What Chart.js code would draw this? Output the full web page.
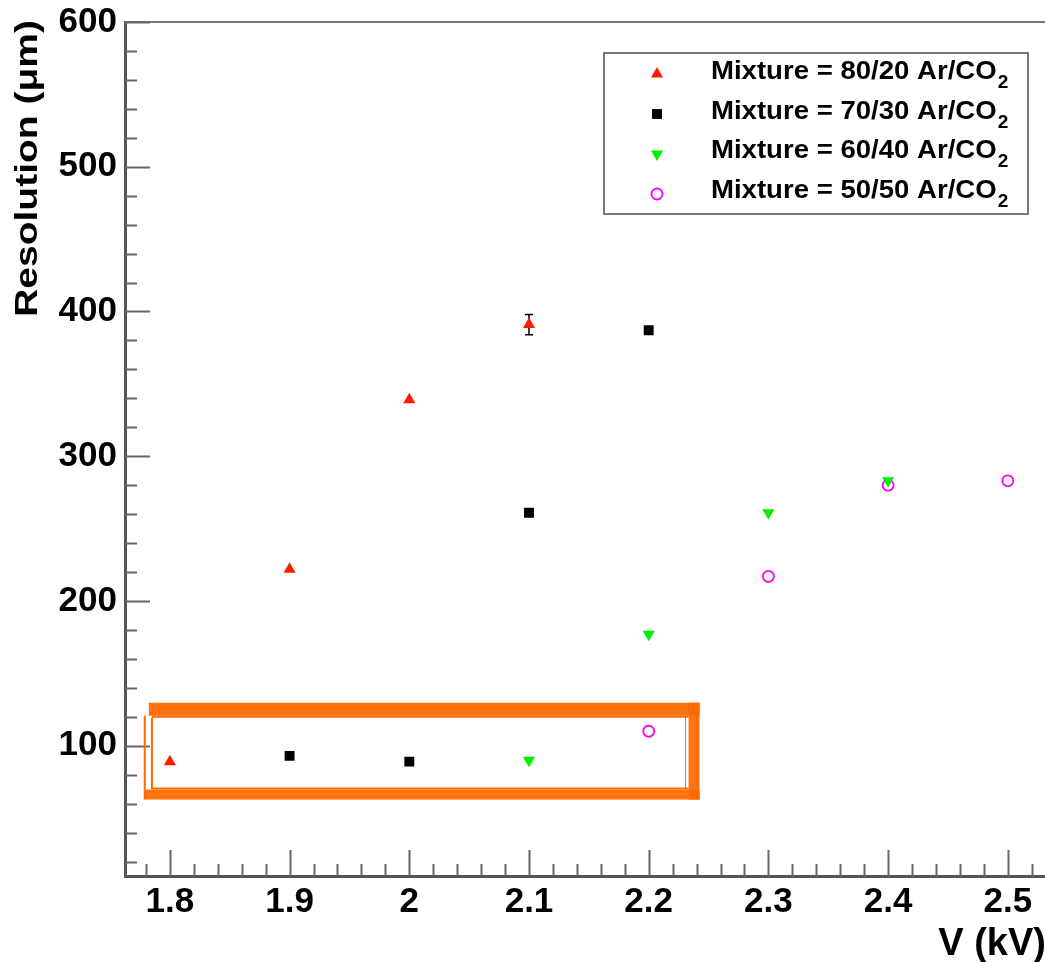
<!DOCTYPE html>
<html><head><meta charset="utf-8">
<script src="https://cdn.jsdelivr.net/npm/chart.js@4/dist/chart.umd.min.js"></script>
<style>html,body{margin:0;padding:0;background:#fff;overflow:hidden;width:1045px;height:962px}canvas{display:block}</style>
</head><body><canvas id="c" width="1060" height="962"></canvas>
<script>
// ---- data ----
const mixtures = ['80/20', '70/30', '60/40', '50/50'];
const v8020 = [1.8, 1.9, 2.0, 2.1];
const r8020 = [89, 222, 339, 391];
const e8020 = [0, 0, 0, 7];
const v7030 = [1.9, 2.0, 2.1, 2.2];
const r7030 = [93, 89, 261, 387];
const v6040 = [2.1, 2.2, 2.3, 2.4];
const r6040 = [90, 177, 261, 283];
const v5050 = [2.2, 2.3, 2.4, 2.5];
const r5050 = [110, 217, 280, 283];
const xTicks = [1.8, 1.9, 2.0, 2.1, 2.2, 2.3, 2.4, 2.5];
const xTickLabels = ['1.8', '1.9', '2', '2.1', '2.2', '2.3', '2.4', '2.5'];
const yTicks = [100, 200, 300, 400, 500, 600];
const yTickLabels = ['100', '200', '300', '400', '500', '600'];
const xTitle = 'V (kV)';
const yTitle = 'Resolution (\u03bcm)';
// highlight box (data coords): outer/inner edges
const boxX = [1.779, 1.785, 2.2333, 2.2425];
const boxY = [62.8, 69.7, 120.7, 129.7];

const FONT = "'Liberation Sans', Arial, Helvetica, sans-serif";
const colors = ['#ff1a00', '#000000', '#00ee00', '#ff00ff'];

function pts(xs, ys) { return xs.map((x, i) => ({x: x, y: ys[i]})); }

const datasets = [
  {label: mixtures[0], data: pts(v8020, r8020), pointStyle: 'triangle', pointRadius: 7, pointRotation: 0,
   backgroundColor: colors[0], borderColor: colors[0], borderWidth: 0, errors: e8020},
  {label: mixtures[1], data: pts(v7030, r7030), pointStyle: 'rect', pointRadius: 7,
   backgroundColor: colors[1], borderColor: colors[1], borderWidth: 0},
  {label: mixtures[2], data: pts(v6040, r6040), pointStyle: 'triangle', pointRadius: 7, pointRotation: 180,
   backgroundColor: colors[2], borderColor: colors[2], borderWidth: 0},
  {label: mixtures[3], data: pts(v5050, r5050), pointStyle: 'circle', pointRadius: 5.5,
   backgroundColor: 'rgba(255,255,255,0)', borderColor: colors[3], borderWidth: 1.8}
];

function drawMarker(ctx, style, rot, x, y, r, fill, stroke, bw) {
  ctx.save();
  ctx.translate(x, y);
  ctx.rotate(rot * Math.PI / 180);
  ctx.beginPath();
  if (style === 'triangle') {
    let a = 0;
    ctx.moveTo(Math.sin(a) * r, -Math.cos(a) * r);
    a += 2 * Math.PI / 3; ctx.lineTo(Math.sin(a) * r, -Math.cos(a) * r);
    a += 2 * Math.PI / 3; ctx.lineTo(Math.sin(a) * r, -Math.cos(a) * r);
    ctx.closePath();
  } else if (style === 'rect') {
    const s = Math.SQRT1_2 * r;
    ctx.rect(-s, -s, 2 * s, 2 * s);
  } else {
    ctx.arc(0, 0, r, 0, 2 * Math.PI);
  }
  ctx.fillStyle = fill; ctx.fill();
  if (bw) { ctx.lineWidth = bw; ctx.strokeStyle = stroke; ctx.stroke(); }
  ctx.restore();
}

const decor = {
  id: 'decor',
  beforeDatasetsDraw(chart) {
    const ctx = chart.ctx, xs = chart.scales.x, ys = chart.scales.y, a = chart.chartArea;
    ctx.save();
    // frame top/right
    ctx.strokeStyle = '#777'; ctx.lineWidth = 2;
    ctx.beginPath(); ctx.moveTo(a.left, a.top); ctx.lineTo(a.right, a.top); ctx.lineTo(a.right, a.bottom); ctx.stroke();
    // ticks
    ctx.strokeStyle = '#666'; ctx.lineWidth = 2;
    for (let k = Math.ceil(xs.min / 0.02 - 1e-6); k * 0.02 <= xs.max + 1e-9; k++) {
      const v = k * 0.02, px = Math.round(xs.getPixelForValue(v)) + 0.5;
      const major = k % 5 === 0;
      ctx.beginPath(); ctx.moveTo(px, a.bottom); ctx.lineTo(px, a.bottom - (major ? 26 : 12)); ctx.stroke();
    }
    for (let k = Math.ceil(ys.min / 20 - 1e-6); k * 20 <= ys.max + 1e-9; k++) {
      const v = k * 20, py = Math.round(ys.getPixelForValue(v)) + 0.5;
      const major = k % 5 === 0;
      ctx.beginPath(); ctx.moveTo(a.left, py); ctx.lineTo(a.left + (major ? 25 : 12), py); ctx.stroke();
    }
    // error bars
    chart.data.datasets.forEach(ds => {
      if (!ds.errors) return;
      ctx.strokeStyle = '#000'; ctx.lineWidth = 1.5;
      ds.data.forEach((p, i) => {
        const e = ds.errors[i]; if (!e) return;
        const px = xs.getPixelForValue(p.x), y1 = ys.getPixelForValue(p.y + e), y2 = ys.getPixelForValue(p.y - e);
        ctx.beginPath();
        ctx.moveTo(px, y1); ctx.lineTo(px, y2);
        ctx.moveTo(px - 4, y1); ctx.lineTo(px + 4, y1);
        ctx.moveTo(px - 4, y2); ctx.lineTo(px + 4, y2);
        ctx.stroke();
      });
    });
    ctx.restore();
  },
  afterDraw(chart) {
    const ctx = chart.ctx, xs = chart.scales.x, ys = chart.scales.y;
    ctx.save();
    // highlight box
    const X = boxX.map(v => xs.getPixelForValue(v)), Y = boxY.map(v => ys.getPixelForValue(v));
    ctx.fillStyle = '#ff6a00';
    ctx.globalAlpha = 0.95;
    ctx.fillRect(X[0] + 4, Y[3], X[3] - X[0] - 4, Y[2] - Y[3]);      // top band
    ctx.fillRect(X[0], Y[1], X[3] - X[0], Y[0] - Y[1]);              // bottom band
    ctx.fillRect(X[2], Y[3], X[3] - X[2], Y[0] - Y[3]);              // right band
    ctx.globalAlpha = 1;
    ctx.strokeStyle = '#ff6a00'; ctx.lineWidth = 2;
    ctx.beginPath();
    ctx.moveTo(X[0], Y[2]); ctx.lineTo(X[0], Y[0]);
    ctx.moveTo(X[1], Y[2] + 2); ctx.lineTo(X[1], Y[1]);
    ctx.moveTo(X[1], Y[2] + 1); ctx.lineTo(X[2], Y[2] + 1);
    ctx.moveTo(X[1], Y[1] - 1); ctx.lineTo(X[2], Y[1] - 1);
    ctx.stroke();
    ctx.lineWidth = 1;
    ctx.beginPath(); ctx.moveTo(X[2] - 3, Y[2]); ctx.lineTo(X[2] - 3, Y[1]); ctx.stroke();

    // axis titles
    ctx.fillStyle = '#000';
    ctx.font = 'bold 39px ' + FONT;
    ctx.save();
    ctx.translate(37, chart.chartArea.top - 2);
    ctx.rotate(-Math.PI / 2);
    ctx.scale(1, 0.78);
    ctx.textAlign = 'right'; ctx.textBaseline = 'alphabetic';
    ctx.fillText(yTitle, 0, 0);
    ctx.restore();
    ctx.font = 'bold 38px ' + FONT;
    ctx.textAlign = 'right'; ctx.textBaseline = 'alphabetic';
    ctx.fillText(xTitle, 1046, 955);

    // legend
    const L = {x: 604, y: 53, w: 424, h: 161};
    ctx.fillStyle = '#fff'; ctx.fillRect(L.x, L.y, L.w, L.h);
    ctx.strokeStyle = '#777'; ctx.lineWidth = 2; ctx.strokeRect(L.x, L.y, L.w, L.h);
    chart.data.datasets.forEach((ds, i) => {
      const cy = 74 + i * 40;
      drawMarker(ctx, ds.pointStyle, ds.pointRotation || 0, 657, cy, ds.pointRadius, ds.backgroundColor, ds.borderColor, ds.borderWidth);
      ctx.fillStyle = '#000';
      ctx.font = 'bold 26px ' + FONT;
      ctx.textAlign = 'left'; ctx.textBaseline = 'alphabetic';
      const t = 'Mixture = ' + ds.label + ' Ar/CO';
      const base = 79 + i * 39.7;
      ctx.save();
      ctx.translate(711, base);
      ctx.scale(1.06, 1);
      ctx.fillText(t, 0, 0);
      const w = ctx.measureText(t).width;
      ctx.font = 'bold 18px ' + FONT;
      ctx.fillText('2', w + 1, 9);
      ctx.restore();
    });
    ctx.restore();
  }
};

new Chart(document.getElementById('c'), {
  type: 'scatter',
  data: {datasets: datasets},
  options: {
    responsive: false, animation: false, devicePixelRatio: 1,
    layout: {padding: {left: 0, top: 22, right: 6.5, bottom: 0}},
    plugins: {legend: {display: false}, tooltip: {enabled: false}},
    scales: {
      x: {
        type: 'linear', min: 1.7625, max: 2.5375,
        afterBuildTicks: s => { s.ticks = xTicks.map(v => ({value: v})); },
        afterFit: s => { s.height = 86; s.paddingLeft = 0; s.paddingRight = 0; },
        grid: {display: false, drawTicks: false},
        border: {display: true, color: '#555', width: 3},
        ticks: {padding: 5, color: '#000', font: {family: FONT, size: 35, weight: 'bold'},
          maxRotation: 0, autoSkip: false,
          callback: v => { const i = xTicks.findIndex(t => Math.abs(t - v) < 1e-6); return i >= 0 ? xTickLabels[i] : ''; }}
      },
      y: {
        type: 'linear', min: 10, max: 600,
        afterBuildTicks: s => { s.ticks = yTicks.map(v => ({value: v})); },
        afterFit: s => { s.width = 125; s.paddingTop = 0; s.paddingBottom = 0; },
        grid: {display: false, drawTicks: false},
        border: {display: true, color: '#555', width: 3},
        ticks: {padding: 8, color: '#000', font: {family: FONT, size: 35, weight: 'bold'}, autoSkip: false,
          callback: v => { const i = yTicks.indexOf(v); return i >= 0 ? yTickLabels[i] : ''; }}
      }
    }
  },
  plugins: [decor]
});
</script>
</body></html>
